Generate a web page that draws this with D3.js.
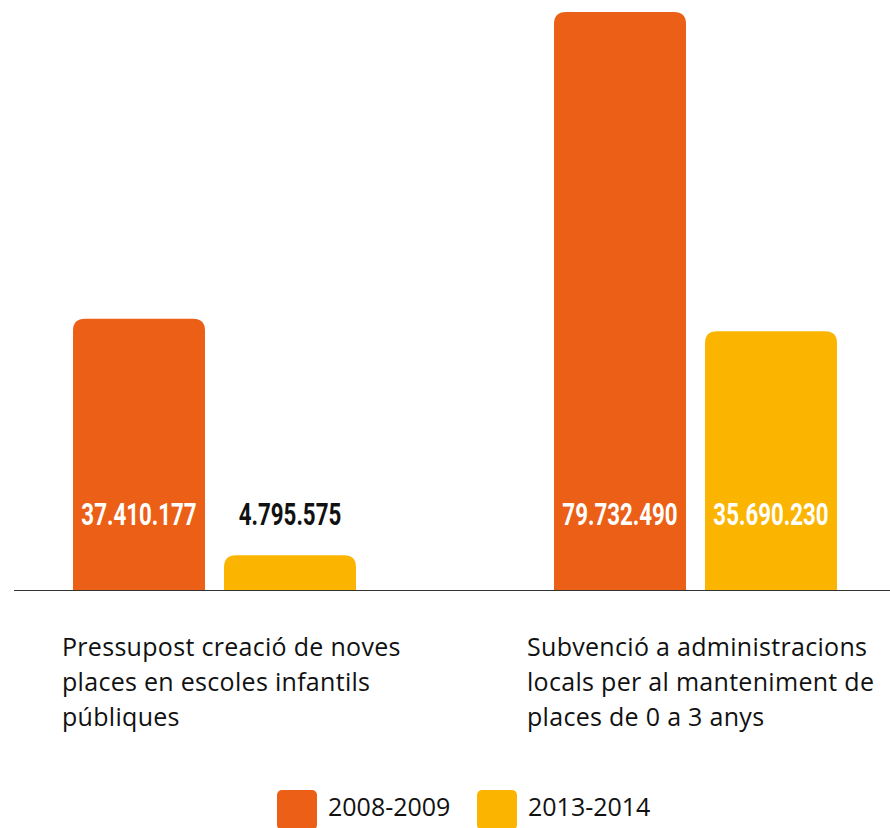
<!DOCTYPE html>
<html>
<head>
<meta charset="utf-8">
<script src="https://cdn.jsdelivr.net/npm/d3@7"></script>
<style>
  html, body { margin: 0; padding: 0; background: #fff; }
  svg { display: block; }
</style>
</head>
<body>
<div id="chart"></div>
<script>
// categories (label split into lines) and series
var categories = ["creacio", "subvencio"];
var categoryLines = [
    ["Pressupost creació de noves", "places en escoles infantils", "públiques"],
    ["Subvenció a administracions", "locals per al manteniment de", "places de 0 a 3 anys"]
];
var seriesNames = ["2008-2009", "2013-2014"];
var values2008 = [37410177, 79732490];
var values2013 = [4795575, 35690230];

var width = 890, height = 828;
var baseline = 590;
var colors = ["#EC5F16", "#FBB400"];

var svg = d3.select("#chart").append("svg")
    .attr("width", width)
    .attr("height", height);

var x0 = d3.scaleBand()
    .domain(categories)
    .range([73, 837])
    .paddingInner(198 / 481)
    .paddingOuter(0);

var x1 = d3.scaleBand()
    .domain(seriesNames)
    .range([0, x0.bandwidth()])
    .paddingInner(19 / 151)
    .paddingOuter(0);

var y = d3.scaleLinear()
    .domain([0, d3.max(values2008.concat(values2013))])
    .range([baseline, 12]);

var color = d3.scaleOrdinal().domain(seriesNames).range(colors);

// flatten for drawing
var bars = [];
categories.forEach(function (c, i) {
    bars.push({ cat: c, series: seriesNames[0], value: values2008[i] });
    bars.push({ cat: c, series: seriesNames[1], value: values2013[i] });
});

var fmt = d3.formatLocale({ decimal: ",", thousands: ".", grouping: [3], currency: ["", "€"] }).format(",d");

// bar with rounded top corners only
function barPath(xp, yp, w, h, r) {
    r = Math.min(r, h, w / 2);
    return "M" + xp + "," + (yp + h) +
        "V" + (yp + r) +
        "Q" + xp + "," + yp + " " + (xp + r) + "," + yp +
        "H" + (xp + w - r) +
        "Q" + (xp + w) + "," + yp + " " + (xp + w) + "," + (yp + r) +
        "V" + (yp + h) + "Z";
}

svg.selectAll("path.bar")
    .data(bars).enter()
    .append("path")
    .attr("class", "bar")
    .attr("fill", function (d) { return color(d.series); })
    .attr("d", function (d) {
        var bx = x0(d.cat) + x1(d.series);
        return barPath(bx, y(d.value), x1.bandwidth(), baseline - y(d.value), 12);
    });

// value labels: fixed height near bottom, black above the bar when it is too short
// no condensed font installed, so squeeze a bold one horizontally
var labelY = 525;
svg.selectAll("text.value")
    .data(bars).enter()
    .append("text")
    .attr("class", "value")
    .attr("transform", function (d) {
        var cx = x0(d.cat) + x1(d.series) + x1.bandwidth() / 2;
        return "translate(" + cx + "," + labelY + ") scale(0.72,1)";
    })
    .attr("text-anchor", "middle")
    .attr("font-family", "Roboto, sans-serif")
    .attr("font-weight", "bold")
    .attr("font-size", 31)
    .attr("fill", function (d) { return y(d.value) < labelY - 30 ? "#fff" : "#111"; })
    .text(function (d) { return fmt(d.value); });

// baseline
svg.append("line")
    .attr("x1", 14).attr("x2", width)
    .attr("y1", baseline + 0.5).attr("y2", baseline + 0.5)
    .attr("stroke", "#333")
    .attr("stroke-width", 1);

// category labels
var labelX = [62, 527];
categories.forEach(function (c, i) {
    var t = svg.append("text")
        .attr("font-family", "'Open Sans', sans-serif")
        .attr("font-size", 25)
        .attr("letter-spacing", 0.3)
        .attr("fill", "#111");
    categoryLines[i].forEach(function (line, j) {
        t.append("tspan")
            .attr("x", labelX[i])
            .attr("y", 656 + j * 35)
            .text(line);
    });
});

// legend
var legend = svg.selectAll("g.legend")
    .data(seriesNames).enter()
    .append("g")
    .attr("class", "legend")
    .attr("transform", function (d, i) { return "translate(" + (277 + i * 200) + ",790)"; });

legend.append("rect")
    .attr("width", 40).attr("height", 40)
    .attr("rx", 5)
    .attr("fill", function (d) { return color(d); });

legend.append("text")
    .attr("x", 51)
    .attr("y", 26)
    .attr("font-family", "'Open Sans', sans-serif")
    .attr("font-size", 25)
    .attr("fill", "#111")
    .text(function (d) { return d; });
</script>
</body>
</html>
